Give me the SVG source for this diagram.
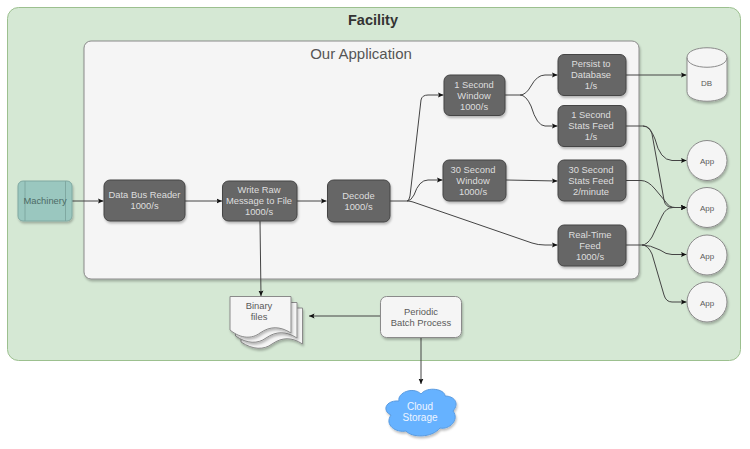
<svg xmlns="http://www.w3.org/2000/svg" width="750" height="449" viewBox="0 0 750 449">
<defs>
<filter id="sh" x="-15%" y="-15%" width="130%" height="130%"><feDropShadow dx="1" dy="2" stdDeviation="1" flood-color="#000" flood-opacity="0.25"/></filter>
<marker id="arr" markerWidth="6" markerHeight="6" refX="5.500" refY="3" orient="auto" markerUnits="userSpaceOnUse"><path d="M0,0.5 L5.500,3 L0,5.500 L1,3 Z" fill="#111"/></marker>
</defs>
<style>
text{font-family:"Liberation Sans",Arial,sans-serif;font-size:9.4px;text-anchor:middle}
.dark rect{fill:#666;stroke:#444;stroke-width:1;filter:url(#sh)}
.dark text{fill:#dedede}
.light{fill:#f5f5f5;stroke:#8a8a8a;stroke-width:1;filter:url(#sh)}
.lt{fill:#5a5a5a}
.sm{font-size:8px}
#connectors path{fill:none;stroke:#444;stroke-width:1;marker-end:url(#arr)}
</style>
<rect width="750" height="449" fill="#fff"/>
<g id="facility"><rect x="7.500" y="7.500" width="733" height="353" rx="11" fill="#d5e8d4" stroke="#9cc08f" stroke-width="1"/>
<text x="373" y="25" style="font-size:14.500px;font-weight:bold" fill="#333">Facility</text></g>
<g id="application"><rect x="84" y="41" width="555" height="238" rx="7" class="light"/>
<text x="361" y="59" style="font-size:15px" fill="#555">Our Application</text></g>
<g id="connectors">
<path d="M72,201H103.500"/>
<path d="M185,201H222"/>
<path d="M297,201H326.500"/>
<path d="M260,221L261,296"/>
<path d="M390,201H407Q409,201 410,196L421,100Q422,95 428,95H443.500"/>
<path d="M407,201Q411,201 414,195Q419,180 428,180H442.500"/>
<path d="M407,201Q410,201 413,202L532,243Q538,245 545,245H557.500"/>
<path d="M505,95H520Q526,95 531,86Q537,75 545,75H557.500"/>
<path d="M520,95Q526,95 531,106Q537,126 545,126H557.500"/>
<path d="M506,180L557.500,181"/>
<path d="M626,75H686.500"/>
<path d="M626,126H643Q650,126 655,139Q660,160 672,160.500H686.500"/>
<path d="M643,126Q650,126 652,134L664,200Q665,207 672,207.500H686.500"/>
<path d="M626,180.500H641Q648,180.500 655,189L665,201Q669,207.500 675,207.500H686.500"/>
<path d="M626,245H642Q647,245 652,237L662,216Q666,207.500 673,207.500H686.500"/>
<path d="M642,245Q650,245 660,250Q666,254.500 672,254.500H686.500"/>
<path d="M642,245Q648,245 652,254L664,295Q666,302 672,302H686.500"/>
<path d="M380,316H309"/>
<path d="M421,338V384"/>
</g>
<g id="machinery"><rect x="18" y="181" width="54" height="40" rx="5" fill="#9ac7bf" stroke="#7fa8a1" filter="url(#sh)"/>
<path d="M25,181V221M65.500,181V221" stroke="#7fa8a1" fill="none"/>
<text x="45" y="204" fill="#4d6b66">Machinery</text></g>
<g id="reader" class="dark"><rect x="104" y="180" width="81" height="41" rx="6"/><text x="144.500" y="198">Data Bus Reader</text><text x="144.500" y="209">1000/s</text></g>
<g id="writer" class="dark"><rect x="222.500" y="181" width="74.500" height="40" rx="6"/><text x="259" y="193">Write Raw</text><text x="259" y="204">Message to File</text><text x="259" y="215">1000/s</text></g>
<g id="decode" class="dark"><rect x="327.500" y="180" width="62.500" height="42" rx="6"/><text x="358.500" y="199">Decode</text><text x="358.500" y="210">1000/s</text></g>
<g id="window1" class="dark"><rect x="444" y="75" width="61" height="40.500" rx="6"/><text x="474" y="87.500">1 Second</text><text x="474" y="98.500">Window</text><text x="474" y="109.500">1000/s</text></g>
<g id="window30" class="dark"><rect x="443" y="160" width="63" height="41" rx="6"/><text x="473" y="172.500">30 Second</text><text x="473" y="183.500">Window</text><text x="473" y="194.500">1000/s</text></g>
<g id="persist" class="dark"><rect x="558" y="54.500" width="68" height="41" rx="6"/><text x="591" y="67">Persist to</text><text x="591" y="78">Database</text><text x="591" y="89">1/s</text></g>
<g id="stats1" class="dark"><rect x="558" y="105.500" width="68" height="41" rx="6"/><text x="591" y="118">1 Second</text><text x="591" y="129">Stats Feed</text><text x="591" y="140">1/s</text></g>
<g id="stats30" class="dark"><rect x="558" y="160" width="68" height="41" rx="6"/><text x="591" y="172.500">30 Second</text><text x="591" y="183.500">Stats Feed</text><text x="591" y="194.500">2/minute</text></g>
<g id="realtime" class="dark"><rect x="558" y="225" width="68" height="41" rx="6"/><text x="590" y="237.500">Real-Time</text><text x="590" y="248.500">Feed</text><text x="590" y="259.500">1000/s</text></g>
<g id="db"><path class="light" d="M687,57.500C687,44.500 727,44.500 727,57.500V91.500C727,104.500 687,104.500 687,91.500Z"/><path d="M687,57.500C687,70.500 727,70.500 727,57.500" fill="none" stroke="#8a8a8a"/><text x="706.500" y="85.500" class="lt sm">DB</text></g>
<g id="app1"><circle cx="707" cy="160.500" r="20" class="light"/><text x="707" y="164" class="lt sm">App</text></g>
<g id="app2"><circle cx="707" cy="207.500" r="20" class="light"/><text x="707" y="211" class="lt sm">App</text></g>
<g id="app3"><circle cx="707" cy="255" r="20" class="light"/><text x="707" y="258.500" class="lt sm">App</text></g>
<g id="app4"><circle cx="707" cy="302" r="20" class="light"/><text x="707" y="305.500" class="lt sm">App</text></g>
<g id="binary">
<path class="light" d="M241,308H302.500V344C292,337 282,337 272,344C264,350 253,350 241,342Z"/>
<path class="light" d="M235.500,302.500H297V338C286,331 276,331 266,338C258,344 247,344 235.500,336Z"/>
<path class="light" d="M230,296.500H291V333C280,326 270,326 260,333C252,339 241,339 230,330Z"/>
<text x="259" y="308.500" class="lt">Binary</text><text x="259" y="319.500" class="lt">files</text></g>
<g id="batch"><rect x="380.500" y="296.500" width="81" height="41" rx="6" class="light"/><text x="421" y="314.500" class="lt">Periodic</text><text x="421" y="325.500" class="lt">Batch Process</text></g>
<g id="cloud"><path d="M399,401C397,393 413,386 421,394C427,386 445,389 445,396C454,396 460,403 453,411C460,420 449,430 440,428C432,438 412,438 406,431C396,433 384,425 391,415C382,411 385,400 399,401Z" fill="#66b2ff" stroke="#5a9be0" filter="url(#sh)"/>
<text x="420" y="410" fill="#eef5ff" style="font-size:10px">Cloud</text><text x="420" y="421" fill="#eef5ff" style="font-size:10px">Storage</text></g>
</svg>
